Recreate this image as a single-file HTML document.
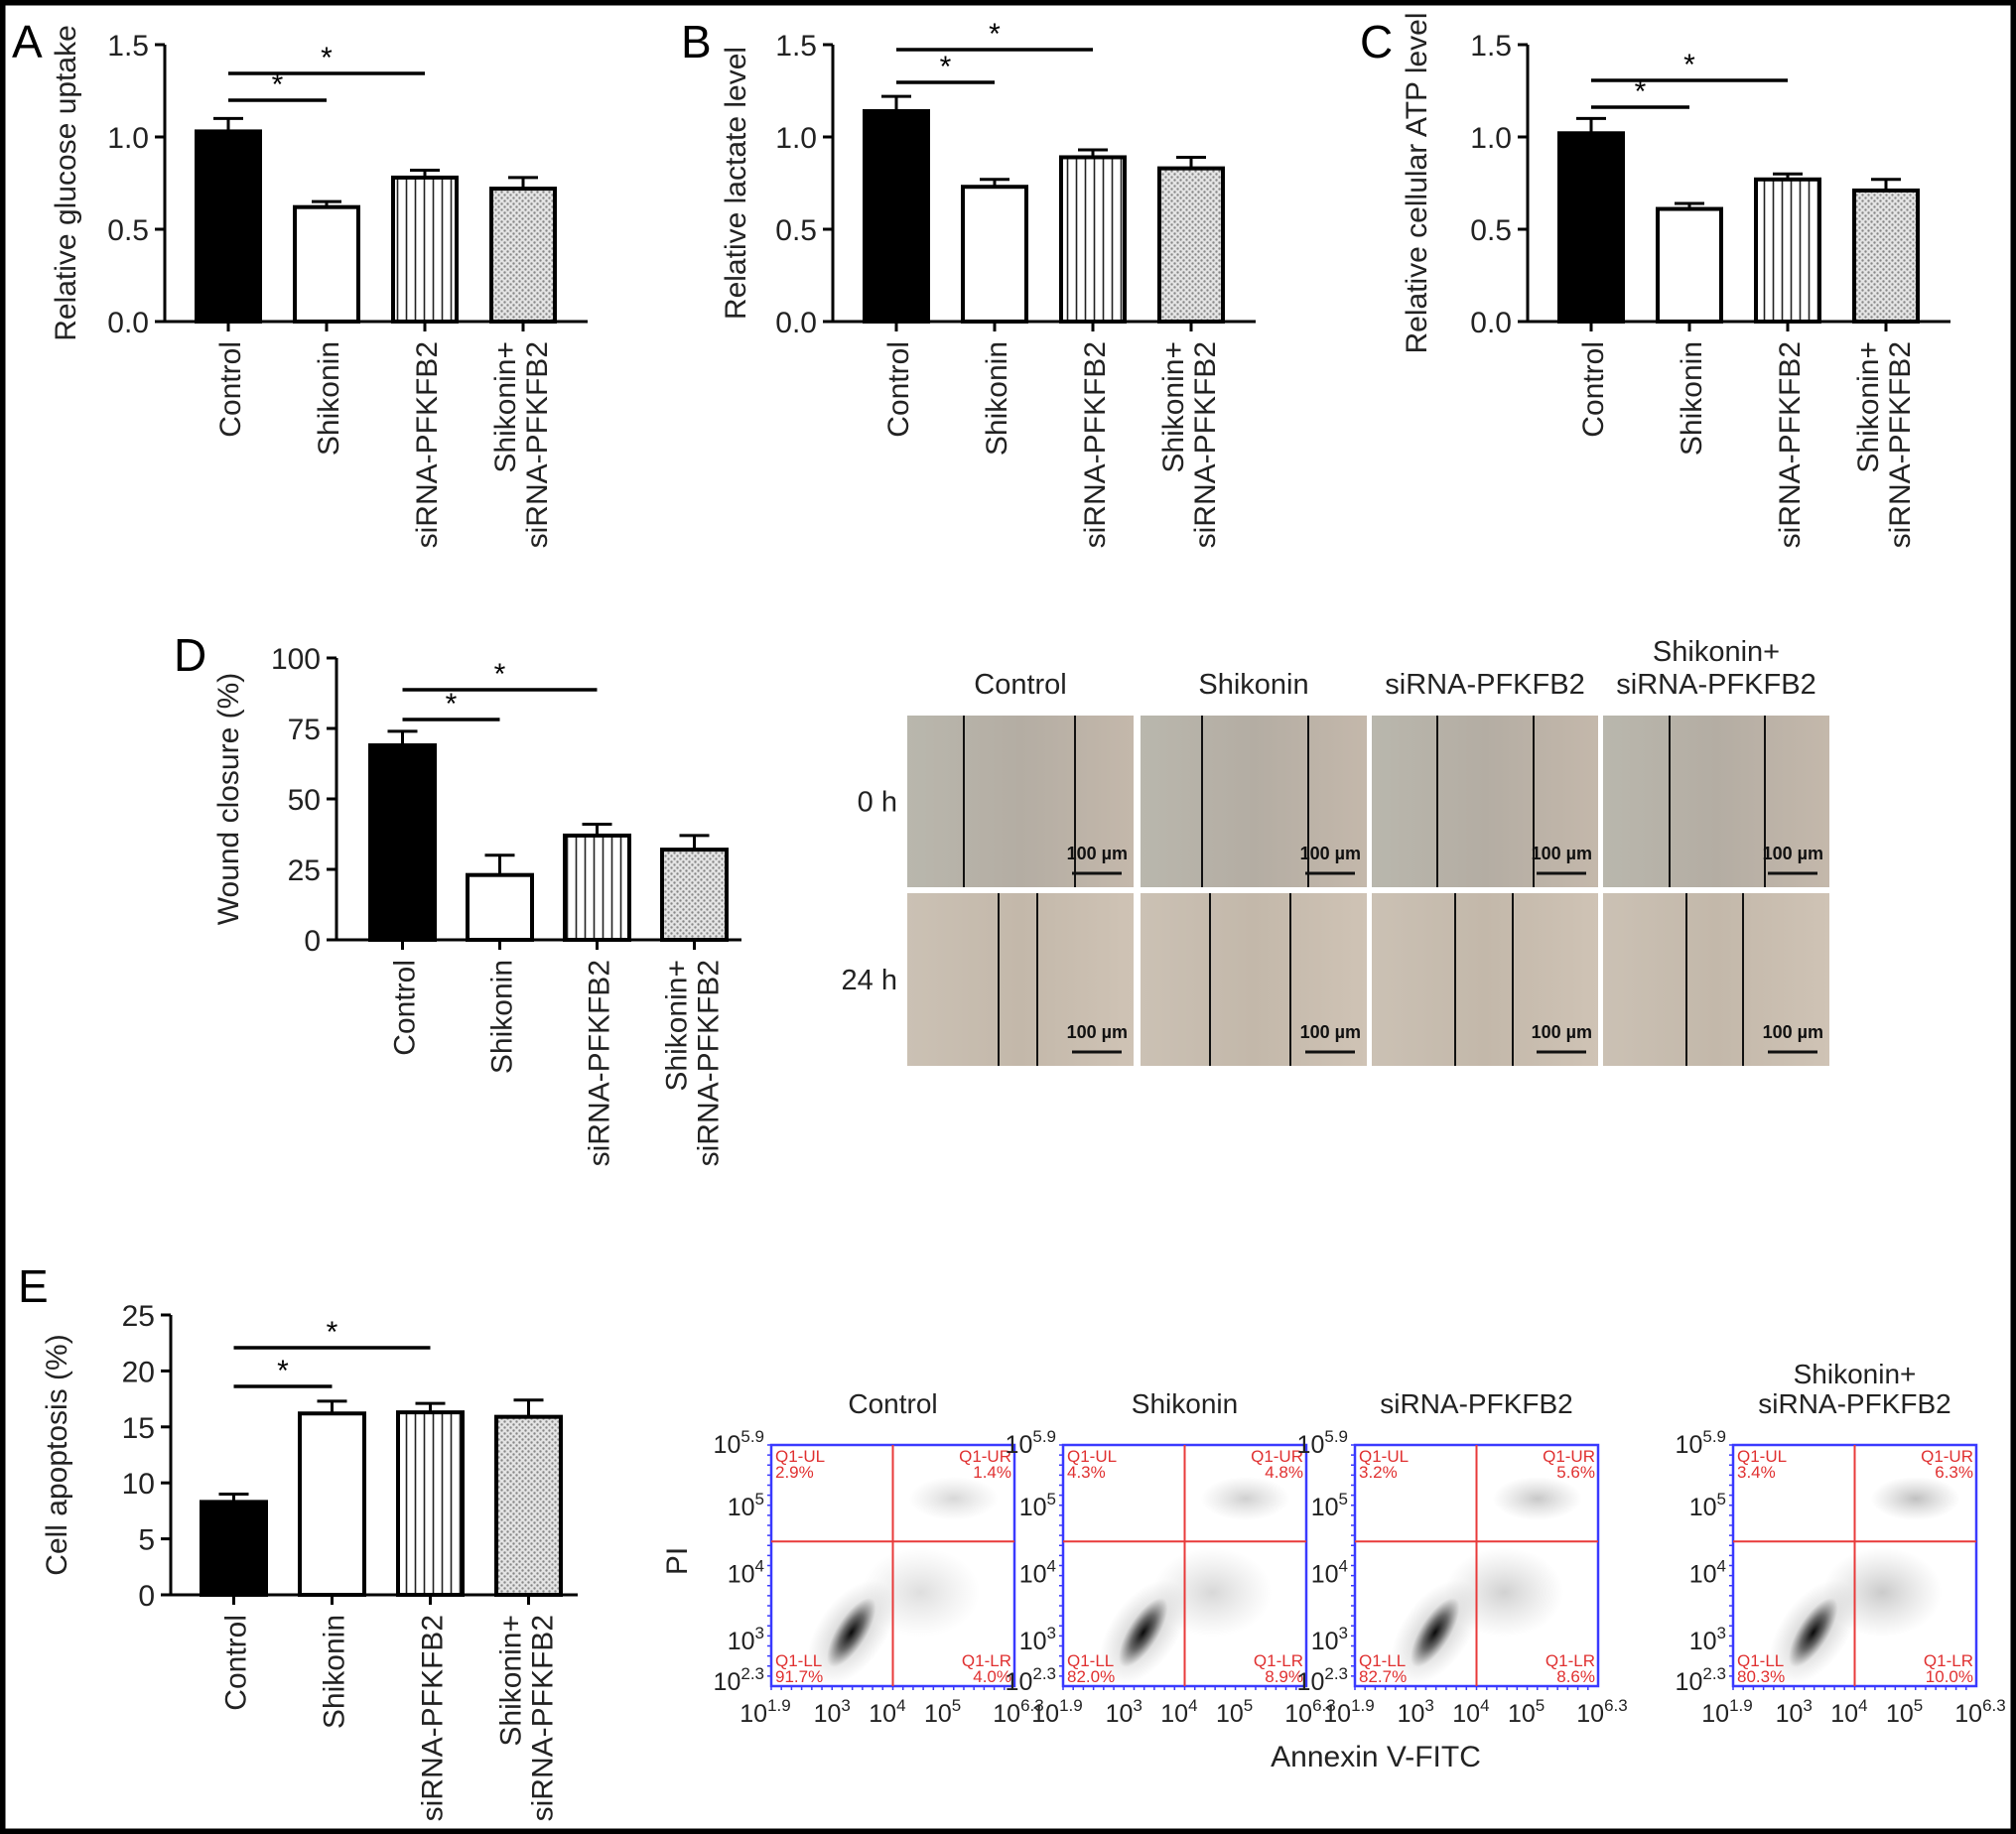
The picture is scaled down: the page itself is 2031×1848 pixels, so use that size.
<!DOCTYPE html>
<html><head><meta charset="utf-8">
<style>
html,body{margin:0;padding:0;background:#fff;}
svg{display:block;font-family:"Liberation Sans",Arial,sans-serif;}
</style></head>
<body>
<svg id="fig" width="2031" height="1848" viewBox="0 0 2031 1848" xmlns="http://www.w3.org/2000/svg">
<defs>
<pattern id="stripes" width="9" height="10" patternUnits="userSpaceOnUse"><rect width="9" height="10" fill="#fff"/><line x1="4.5" y1="0" x2="4.5" y2="10" stroke="#222" stroke-width="1.6"/></pattern>
<pattern id="dots" width="6" height="6" patternUnits="userSpaceOnUse"><rect width="6" height="6" fill="#e4e4e4"/><circle cx="1.5" cy="1.5" r="1.2" fill="#888"/><circle cx="4.5" cy="4.5" r="1.2" fill="#888"/></pattern>
<radialGradient id="cloudCore"><stop offset="0" stop-color="#000" stop-opacity="0.95"/><stop offset="0.5" stop-color="#111" stop-opacity="0.55"/><stop offset="1" stop-color="#333" stop-opacity="0"/></radialGradient>
<radialGradient id="cloudSoft"><stop offset="0" stop-color="#444" stop-opacity="0.35"/><stop offset="1" stop-color="#666" stop-opacity="0"/></radialGradient>
<linearGradient id="micTop" x1="0" x2="1"><stop offset="0" stop-color="#b9b7ad"/><stop offset="0.5" stop-color="#b4ada3"/><stop offset="1" stop-color="#c4b8ab"/></linearGradient>
<linearGradient id="micBot" x1="0" x2="1"><stop offset="0" stop-color="#cbc1b4"/><stop offset="0.5" stop-color="#c3b8aa"/><stop offset="1" stop-color="#cfc3b5"/></linearGradient>
</defs>
<rect x="2.5" y="2.5" width="2026" height="1843" fill="#fff" stroke="#000" stroke-width="6"/>
</svg>
<script>
// ---------- data ----------
const categories = ["Control","Shikonin","siRNA-PFKFB2","Shikonin+|siRNA-PFKFB2"];
const glucoseValues = [1.03,0.62,0.78,0.72];
const glucoseErrors = [0.07,0.03,0.04,0.06];
const lactateValues = [1.14,0.73,0.89,0.83];
const lactateErrors = [0.08,0.04,0.04,0.06];
const atpValues = [1.02,0.61,0.77,0.71];
const atpErrors = [0.08,0.03,0.03,0.06];
const woundValues = [69,23,37,32];
const woundErrors = [5,7,4,5];
const apoptosisValues = [8.3,16.2,16.3,15.9];
const apoptosisErrors = [0.7,1.1,0.8,1.5];
const ticks15 = [0,0.5,1.0,1.5];
const tickLabels15 = ["0.0","0.5","1.0","1.5"];
const ticksWound = [0,25,50,75,100];
const ticksApop = [0,5,10,15,20,25];
const flowTitles = ["Control","Shikonin","siRNA-PFKFB2","Shikonin+|siRNA-PFKFB2"];
const flowUL = ["2.9%","4.3%","3.2%","3.4%"];
const flowUR = ["1.4%","4.8%","5.6%","6.3%"];
const flowLL = ["91.7%","82.0%","82.7%","80.3%"];
const flowLR = ["4.0%","8.9%","8.6%","10.0%"];
const micTitles = ["Control","Shikonin","siRNA-PFKFB2","Shikonin+|siRNA-PFKFB2"];

const NS="http://www.w3.org/2000/svg";
const svg=document.getElementById('fig');
function mk(tag,attrs,parent){const e=document.createElementNS(NS,tag);for(const k in attrs)e.setAttribute(k,attrs[k]);(parent||svg).appendChild(e);return e;}
function txt(s,attrs,parent){const e=mk('text',attrs,parent);e.textContent=s;return e;}

const fills=["#000","#fff","url(#stripes)","url(#dots)"];

function barChart(o){
  const g=mk('g',{});
  
  
  const yS=v=>o.y0-(v-o.min)/(o.max-o.min)*(o.y0-o.yTop);
  const bx=i=>o.ax+o.off+i*o.step;
  const L=txt(o.letter,{x:o.lx,y:o.ly,'font-size':46,fill:'#000'},g);
  
  
  const ya=mk('line',{x1:o.ax,y1:o.yTop,x2:o.ax,y2:o.y0,stroke:'#000','stroke-width':3},g);
  
  
  o.ticks.forEach((t,i)=>{
    const y=yS(t);
    mk('line',{x1:o.ax-10,y1:y,x2:o.ax,y2:y,stroke:'#000','stroke-width':3},g);
    const tl=txt(o.tickLabels[i],{x:o.ax-16,y:y+11,'font-size':30,'text-anchor':'end',fill:'#222'},g);
    
    
  });
  const xa=mk('line',{x1:o.ax,y1:o.y0,x2:o.ax+o.len,y2:o.y0,stroke:'#000','stroke-width':3},g);
  
  
  const yt=txt(o.ytitle,{transform:`translate(${o.ax+o.titleOff},${(o.y0+o.yTop)/2}) rotate(-90)`,'font-size':30,'text-anchor':'middle',fill:'#222'},g);
  
  
  o.values.forEach((v,i)=>{
    const x=bx(i), cx=x+o.bw/2, yv=yS(v), ye=yS(v+o.errors[i]);
    mk('line',{x1:cx,y1:yv,x2:cx,y2:ye,stroke:'#000','stroke-width':3},g);
    mk('line',{x1:cx-15,y1:ye,x2:cx+15,y2:ye,stroke:'#000','stroke-width':3},g);
    const r=mk('rect',{x:x,y:yv,width:o.bw,height:o.y0-yv,fill:fills[i],stroke:'#000','stroke-width':4},g);
    
    
    mk('line',{x1:cx,y1:o.y0,x2:cx,y2:o.y0+10,stroke:'#000','stroke-width':3},g);
    const parts=categories[i].split('|');
    parts.forEach((p,j)=>{
      const dy=parts.length>1?(j===0?-8:24):12;
      const c=txt(p,{transform:`translate(${cx},${o.y0+20}) rotate(-90)`,x:0,y:dy,'font-size':30,'text-anchor':'end',fill:'#222'},g);
      
      
    });
  });
  o.sig.forEach(s=>{
    const x1=bx(s[0])+o.bw/2, x2=bx(s[1])+o.bw/2;
    const ln=mk('line',{x1:x1,y1:s[2],x2:x2,y2:s[2],stroke:'#000','stroke-width':3.5},g);
    
    
    const st=txt('*',{x:(x1+x2)/2,y:s[2]-6,'font-size':30,'text-anchor':'middle',fill:'#000'},g);
    
    
  });
}

barChart({name:'chart-glucose-uptake',letter:'A',lx:12,ly:58,ax:166,y0:324,yTop:45,min:0,max:1.5,ticks:ticks15,tickLabels:tickLabels15,values:glucoseValues,errors:glucoseErrors,off:32,step:99,bw:64,len:426,titleOff:-90,ytitle:'Relative glucose uptake',sig:[[0,1,101],[0,2,74]]});
barChart({name:'chart-lactate-level',letter:'B',lx:686,ly:58,ax:839,y0:324,yTop:45,min:0,max:1.5,ticks:ticks15,tickLabels:tickLabels15,values:lactateValues,errors:lactateErrors,off:32,step:99,bw:64,len:426,titleOff:-88,ytitle:'Relative lactate level',sig:[[0,1,83],[0,2,50]]});
barChart({name:'chart-atp-level',letter:'C',lx:1370,ly:58,ax:1539,y0:324,yTop:45,min:0,max:1.5,ticks:ticks15,tickLabels:tickLabels15,values:atpValues,errors:atpErrors,off:32,step:99,bw:64,len:426,titleOff:-102,ytitle:'Relative cellular ATP level',sig:[[0,1,108],[0,2,81]]});
barChart({name:'chart-wound-closure',letter:'D',lx:175,ly:676,ax:339,y0:947,yTop:663,min:0,max:100,ticks:ticksWound,tickLabels:ticksWound.map(String),values:woundValues,errors:woundErrors,off:34,step:98,bw:65,len:408,titleOff:-99,ytitle:'Wound closure (%)',sig:[[0,1,725],[0,2,695]]});
barChart({name:'chart-cell-apoptosis',letter:'E',lx:18,ly:1312,ax:172,y0:1607,yTop:1325,min:0,max:25,ticks:ticksApop,tickLabels:ticksApop.map(String),values:apoptosisValues,errors:apoptosisErrors,off:31,step:99,bw:65,len:410,titleOff:-105,ytitle:'Cell apoptosis (%)',sig:[[0,1,1397],[0,2,1358]]});

// ---------- micrographs ----------
const micX=[914,1149,1382,1615], micW=228;
const micRows=[{y:721,h:173,lab:'0 h',lines:[[971,1083],[1211,1318],[1448,1545],[1682,1778]],fill:'url(#micTop)'},
               {y:900,h:174,lab:'24 h',lines:[[1006,1045],[1219,1300],[1466,1524],[1699,1756]],fill:'url(#micBot)'}];
micTitles.forEach((t,i)=>{
  const parts=t.split('|');
  parts.forEach((p,j)=>{
    const e=txt(p,{x:micX[i]+micW/2,y:parts.length>1?(j===0?666:699):699,'font-size':29,'text-anchor':'middle',fill:'#222'});
    
    
  });
});
micRows.forEach((r,ri)=>{
  const l=txt(r.lab,{x:904,y:r.y+r.h/2+10,'font-size':29,'text-anchor':'end',fill:'#222'});
  
  
  micX.forEach((x,i)=>{
    const im=mk('rect',{x:x,y:r.y,width:micW,height:r.h,fill:r.fill});
    
    
    r.lines[i].forEach(lx=>mk('line',{x1:lx,y1:r.y,x2:lx,y2:r.y+r.h,stroke:'#111','stroke-width':2}));
    const sb=txt('100 µm',{x:x+micW-6,y:r.y+r.h-28,'font-size':18,'font-weight':'bold','text-anchor':'end',fill:'#111'});
    
    
    mk('line',{x1:x+micW-62,y1:r.y+r.h-14,x2:x+micW-12,y2:r.y+r.h-14,stroke:'#111','stroke-width':3});
  });
});

// ---------- flow cytometry ----------
const flowX=[777,1071,1365,1746], fy=1456, fw=245, fh=243;
const yMin=2.3,yMax=5.9,xMin=1.9,xMax=6.3,hGate=4.46,vGate=4.1;
const yTicksF=[5.9,5,4,3,2.3], xTicksF=[1.9,3,4,5,6.3];
function sup(parent,base,ex,attrs){
  const t=mk('text',attrs,parent);
  const a=document.createElementNS(NS,'tspan');a.textContent=base;t.appendChild(a);
  const b=document.createElementNS(NS,'tspan');b.textContent=ex;b.setAttribute('font-size','17');b.setAttribute('dy','-11');t.appendChild(b);
  return t;
}
flowX.forEach((x0,i)=>{
  const g=mk('g',{});
  
  
  const X=v=>x0+(v-xMin)/(xMax-xMin)*fw, Y=v=>fy+(yMax-v)/(yMax-yMin)*fh;
  const parts=flowTitles[i].split('|');
  parts.forEach((p,j)=>{
    const e=txt(p,{x:x0+fw/2,y:parts.length>1?(j===0?1394:1424):1424,'font-size':28,'text-anchor':'middle',fill:'#222'},g);
    
    
  });
  const lx=X(3.35), ly=Y(3.1);
  mk('ellipse',{cx:X(5.2),cy:Y(5.1),rx:45,ry:22,fill:'url(#cloudSoft)',opacity:0.6+i*0.12},g);
  mk('ellipse',{cx:X(4.6),cy:Y(3.7),rx:60,ry:45,fill:'url(#cloudSoft)',opacity:0.5+i*0.1},g);
  mk('ellipse',{cx:lx,cy:ly,rx:60,ry:34,fill:'url(#cloudSoft)',transform:`rotate(-55 ${lx} ${ly})`},g);
  const c=mk('ellipse',{cx:lx,cy:ly,rx:40,ry:15,fill:'url(#cloudCore)',transform:`rotate(-58 ${lx} ${ly})`},g);
  
  
  mk('rect',{x:x0,y:fy,width:fw,height:fh,fill:'none',stroke:'#3a3aff','stroke-width':2.5},g);
  for(let k=0;k<24;k++){mk('line',{x1:x0-4,y1:fy+k*fh/24,x2:x0,y2:fy+k*fh/24,stroke:'#3a3aff','stroke-width':1.5},g);}
  for(let k=0;k<24;k++){mk('line',{x1:x0+k*fw/24,y1:fy+fh,x2:x0+k*fw/24,y2:fy+fh+4,stroke:'#3a3aff','stroke-width':1.5},g);}
  mk('line',{x1:X(vGate),y1:fy,x2:X(vGate),y2:fy+fh,stroke:'#e83a3a','stroke-width':2},g);
  mk('line',{x1:x0,y1:Y(hGate),x2:x0+fw,y2:Y(hGate),stroke:'#e83a3a','stroke-width':2},g);
  const q=(s,x,y,a,n)=>{const e=txt(s,{x:x,y:y,'font-size':17,fill:'#e03030','text-anchor':a},g);};
  q('Q1-UL',x0+4,fy+17,'start','quadrant-label');q(flowUL[i],x0+4,fy+33,'start','quadrant-value-ul');
  q('Q1-UR',x0+fw-3,fy+17,'end','quadrant-label');q(flowUR[i],x0+fw-3,fy+33,'end','quadrant-value-ur');
  q('Q1-LL',x0+4,fy+fh-20,'start','quadrant-label');q(flowLL[i],x0+4,fy+fh-4,'start','quadrant-value-ll');
  q('Q1-LR',x0+fw-3,fy+fh-20,'end','quadrant-label');q(flowLR[i],x0+fw-3,fy+fh-4,'end','quadrant-value-lr');
  yTicksF.forEach(v=>{
    const e=sup(g,'10',String(v),{x:x0-7,y:Y(v)+(v===yMax?8:v===yMin?4:10),'font-size':25,'text-anchor':'end',fill:'#222'});
    
    
  });
  xTicksF.forEach(v=>{
    const e=sup(g,'10',String(v),{x:X(v)+(v===xMin?-6:v===xMax?4:0),y:fy+fh+36,'font-size':25,'text-anchor':'middle',fill:'#222'});
    
    
  });
});
const pi=txt('PI',{transform:'translate(692,1573) rotate(-90)','font-size':30,'text-anchor':'middle',fill:'#222'});


const ax=txt('Annexin V-FITC',{x:1386,y:1780,'font-size':30,'text-anchor':'middle',fill:'#222'});


</script>
</body></html>
